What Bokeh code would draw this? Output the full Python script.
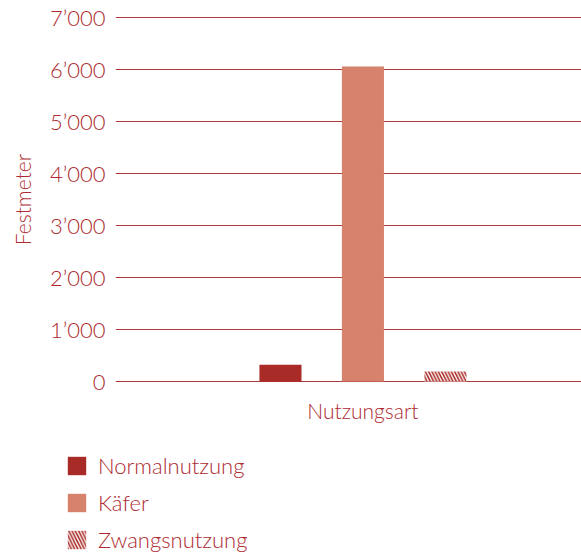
from bokeh.plotting import figure
from bokeh.models import Range1d, FixedTicker, ColumnDataSource
from bokeh.embed import file_html
from bokeh.resources import INLINE

# ---- data ----
categories = ["Normalnutzung", "Käfer", "Zwangsnutzung"]
values = [320, 6060, 190]
group_label = "Nutzungsart"
y_ticks = [0, 1000, 2000, 3000, 4000, 5000, 6000, 7000]
y_tick_labels = ["0", "1’000", "2’000", "3’000", "4’000", "5’000", "6’000", "7’000"]
y_axis_label = "Festmeter"

# ---- styles ----
dark_red = "#A92B27"
salmon = "#D6826D"
text_color = "#AE2A30"
grid_color = "#AD3A3C"
FONT = "Lato Light, Lato"

styles = [
    dict(fill_color=dark_red),
    dict(fill_color=salmon),
    dict(fill_color="white", hatch_pattern="\\", hatch_color=dark_red,
         hatch_scale=6.5, hatch_weight=1.6),
]

p = figure(width=581, height=425, output_backend="svg", toolbar_location=None,
           x_range=Range1d(-3.0, 2.65), y_range=Range1d(-20, 7020),
           min_border_left=115, min_border_right=0, min_border_top=16,
           min_border_bottom=41)
p.outline_line_color = None
p.background_fill_color = "white"
p.border_fill_color = "white"

offsets = [i - (len(categories) - 1) / 2 for i in range(len(categories))]
sources = []
for x, v, st in zip(offsets, values, styles):
    src = ColumnDataSource(dict(x=[x], top=[v]))
    sources.append(src)
    p.vbar(x="x", top="top", width=0.51, source=src, line_color=None, **st)

# y axis
p.yaxis.ticker = FixedTicker(ticks=y_ticks)
p.yaxis.major_label_overrides = {t: l for t, l in zip(y_ticks, y_tick_labels)}
p.yaxis.axis_line_color = None
p.yaxis.major_tick_line_color = None
p.yaxis.minor_tick_line_color = None
p.yaxis.major_label_text_font = FONT
p.yaxis.major_label_text_font_size = "22px"
p.yaxis.major_label_text_color = text_color
p.yaxis.major_label_standoff = 4
p.yaxis.axis_label = y_axis_label
p.yaxis.axis_label_text_font = FONT
p.yaxis.axis_label_text_font_size = "21px"
p.yaxis.axis_label_text_font_style = "normal"
p.yaxis.axis_label_text_color = text_color
p.yaxis.axis_label_standoff = 12

# x axis
p.xaxis.ticker = FixedTicker(ticks=[0])
p.xaxis.major_label_overrides = {0: group_label}
p.xaxis.axis_line_color = None
p.xaxis.major_tick_line_color = None
p.xaxis.minor_tick_line_color = None
p.xaxis.major_label_text_font = FONT
p.xaxis.major_label_text_font_size = "21px"
p.xaxis.major_label_text_color = text_color
p.xaxis.major_label_standoff = 9

# grid
p.xgrid.grid_line_color = None
p.ygrid.ticker = FixedTicker(ticks=y_ticks)
p.ygrid.grid_line_color = grid_color
p.ygrid.grid_line_width = 1.2

# ---- legend panel (separate root so its frame starts at the left edge) ----
# legend proxies share the bar data but are not drawn themselves
pl = figure(width=581, height=128, output_backend="svg", toolbar_location=None,
            x_range=Range1d(-3.0, 2.65), y_range=Range1d(-20, 7020),
            x_axis_type=None, y_axis_type=None,
            min_border_left=0, min_border_right=0, min_border_top=0,
            min_border_bottom=0)
pl.outline_line_color = None
pl.xgrid.grid_line_color = None
pl.ygrid.grid_line_color = None
pl.background_fill_color = "white"
pl.border_fill_color = "white"
for cat, st, src in zip(categories, styles, sources):
    r = pl.vbar(x="x", top="top", width=0.51, source=src, line_color=None,
                legend_label=cat, **st)
    r.visible = False

leg = pl.legend[0]
leg.location = (65, 0)
leg.orientation = "vertical"
leg.border_line_color = None
leg.background_fill_alpha = 0
leg.padding = 0
leg.margin = 0
leg.spacing = 10
leg.glyph_width = 23
leg.glyph_height = 23
leg.label_height = 23
leg.label_standoff = 10
leg.label_text_font = FONT
leg.label_text_font_size = "22px"
leg.label_text_color = text_color
leg.inactive_fill_alpha = 0

open("out.html", "w").write(file_html([p, pl], INLINE))
